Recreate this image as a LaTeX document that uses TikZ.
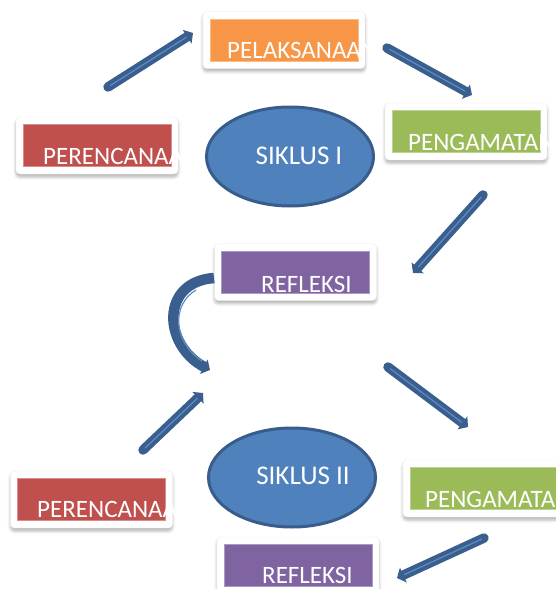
\documentclass[tikz,border=0pt]{standalone}
\usepackage{fontspec}
\setmainfont{Carlito}
\usetikzlibrary{arrows.meta,shapes.geometric,shadows.blur,calc}

\definecolor{cOrange}{HTML}{F79646}
\definecolor{cRed}{HTML}{C0504D}
\definecolor{cGreen}{HTML}{9BBB59}
\definecolor{cPurple}{HTML}{8064A2}
\definecolor{cBlue}{HTML}{4F81BD}
\definecolor{cBlueDark}{HTML}{385D8A}
\definecolor{cArrow}{HTML}{3A5F8E}
\definecolor{cStripe}{HTML}{5F8CC4}

\tikzset{
  card/.style={rectangle, rounded corners=4pt, fill=white, draw=black!7,
    minimum width=162pt, minimum height=57pt, inner sep=0pt,
    blur shadow={shadow xshift=0pt, shadow yshift=-3pt,
      shadow blur radius=3pt, shadow opacity=30}},
  stepbox/.style={rectangle, fill=#1, draw=#1!65!white, line width=0.6pt,
    minimum width=148pt, minimum height=42pt, inner sep=0pt},
  lbl/.style={anchor=base west, text=white, inner sep=0pt,
    font=\fontsize{25}{27}\selectfont},
  cycle/.style={ellipse, fill=cBlue, draw=cBlueDark, line width=3pt,
    minimum width=167pt, minimum height=99pt, inner sep=0pt},
  cyclbl/.style={text=white, inner sep=0pt, font=\fontsize{27}{29}\selectfont},
  flow/.style={draw=cArrow, line width=9.5pt, line cap=round,
    -{Triangle[width=16pt,length=7pt]}},
  stripe/.style={draw=cStripe, line width=1.2pt, line cap=round},
}

\begin{document}
\begin{tikzpicture}[x=1pt, y=-1pt]
\useasboundingbox (0,0) rectangle (555,589);

% ---------- first cycle ----------
\node[card] (pel) at (284,40) {};
\node[stepbox=cOrange] (pelb) at (pel.center) {};
\node[lbl] (pelt) at (227,58) {PELAKSANAAN};

\node[card] (per1) at (97,145.5) {};
\node[stepbox=cRed] (per1b) at (per1.center) {};
\node[lbl] (per1t) at (43,164) {PERENCANAAN};

\node[card] (pen1) at (466,131.5) {};
\node[stepbox=cGreen] (pen1b) at (pen1.center) {};
\node[lbl] (pen1t) at (408,150) {PENGAMATAN};

\node[card] (ref1) at (295.5,272) {};
\node[stepbox=cPurple] (ref1b) at (ref1.center) {};
\node[lbl] (ref1t) at (261,292) {REFLEKSI};

\node[cycle] (sik1) at (290,156.5) {};
\node[cyclbl] (sik1t) at (299,156) {SIKLUS I};

% ---------- second cycle ----------
\node[card] (per2) at (91.5,499.5) {};
\node[stepbox=cRed] (per2b) at (per2.center) {};
\node[lbl] (per2t) at (37,517) {PERENCANAAN};

\node[card] (pen2) at (484,488.5) {};
\node[stepbox=cGreen] (pen2b) at (pen2.center) {};
\node[lbl] (pen2t) at (425,507) {PENGAMATAN};

\node[card] (ref2) at (298,565.5) {};
\node[stepbox=cPurple] (ref2b) at (ref2.center) {};
\node[lbl] (ref2t) at (262,583) {REFLEKSI};

\node[cycle] (sik2) at (292,477.5) {};
\node[cyclbl] (sik2t) at (303,476) {SIKLUS II};

% ---------- arrow end points ----------
\coordinate (a1s) at (108,87);  \coordinate (a1e) at (193,33);
\coordinate (a2s) at (387,48);  \coordinate (a2e) at (472,95);
\coordinate (a3s) at (483,195); \coordinate (a3e) at (413,273);
\coordinate (a4s) at (214,278); \coordinate (a4e) at (210,370);
\coordinate (a5s) at (143,450); \coordinate (a5e) at (203,393);
\coordinate (a6s) at (388,367); \coordinate (a6e) at (468,427);
\coordinate (a7s) at (484,538); \coordinate (a7e) at (397,578);

% ---------- straight arrows ----------
\foreach \i in {1,2,3,5,6,7} {
  \draw[flow] (a\i s) -- (a\i e);
  \draw[stripe] ($(a\i s)!3pt!(a\i e)$) -- ($(a\i e)!8pt!(a\i s)$);
}

% ---------- curved arrow from REFLEKSI into the second cycle ----------
\draw[flow, line width=10.5pt, line cap=butt]
  (a4s) .. controls (160,282) and (163,345) .. (a4e);
\draw[stripe] (196,290) .. controls (171,305) and (173,342) .. (202,361);

\end{tikzpicture}
\end{document}
